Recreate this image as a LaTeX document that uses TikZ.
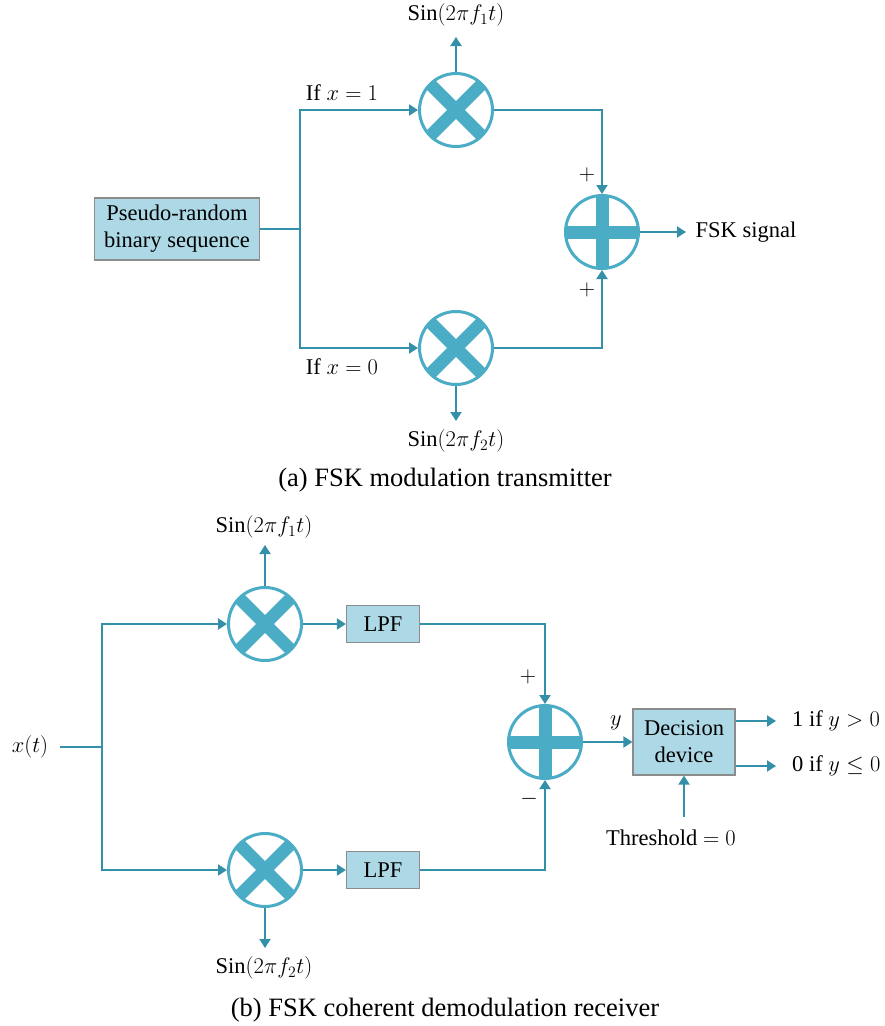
\documentclass[tikz,border=0pt]{standalone}
\usepackage{fix-cm}
\usepackage{amsmath,amssymb}
\usepackage{fontspec}
\setmainfont{Liberation Serif}
\usepackage{tikz}
\usetikzlibrary{arrows.meta, positioning, calc}

\definecolor{linecol}{RGB}{52,143,168}
\definecolor{symcol}{RGB}{75,172,198}
\definecolor{boxfill}{RGB}{173,216,230}

\begin{document}
\begin{tikzpicture}[
    x=1pt, y=-1pt,
    box/.style={
        rectangle, draw=gray!90, line width=1.2pt, fill=boxfill,
        align=center, inner sep=0pt, font=\fontsize{22.5}{27}\selectfont
    },
    mulnode/.style={
        circle, draw=symcol, line width=3pt, fill=white,
        minimum size=73pt, inner sep=0pt,
        path picture={
            \draw[symcol, line width=12.5pt]
                ($(path picture bounding box.center)+(-40,-40)$) -- ($(path picture bounding box.center)+(40,40)$)
                ($(path picture bounding box.center)+(-40,40)$) -- ($(path picture bounding box.center)+(40,-40)$);
        }
    },
    sumnode/.style={
        mulnode,
        path picture={
            \draw[symcol, line width=13pt]
                ($(path picture bounding box.center)+(-40,0)$) -- ($(path picture bounding box.center)+(40,0)$)
                ($(path picture bounding box.center)+(0,-40)$) -- ($(path picture bounding box.center)+(0,40)$);
        }
    },
    lbl/.style={inner sep=0pt, font=\fontsize{22.5}{27}\selectfont},
    caption/.style={inner sep=0pt, font=\fontsize{26.5}{30}\selectfont},
    line/.style={line width=2pt, linecol},
    arrow/.style={-{Triangle[length=9pt, width=11pt]}, line width=2pt, linecol}
]
\useasboundingbox (0,0) rectangle (885,1026);

% (a) transmitter
\node[box, minimum width=165pt, minimum height=62pt] (prbs) at (177,229) {Pseudo-random\\binary sequence};
\coordinate (splitA) at (300,229);
\node[mulnode] (mulA) at (456,110) {};
\node[mulnode] (mulB) at (456,348) {};
\node[sumnode] (sumA) at (602,232) {};

\coordinate (sinAtip) at (456,37);
\coordinate (sinBtip) at (456,421);
\coordinate (fskTip) at (686,232);
\node[lbl] (sinA) at (456,15) {$\mathrm{Sin}(2\pi f_1 t)$};
\node[lbl] (sinB) at (456,441) {$\mathrm{Sin}(2\pi f_2 t)$};
\node[lbl] (fsk) at (746,232) {FSK signal};
\node[lbl] (ifA) at (342,93) {If $x=1$};
\node[lbl] (ifB) at (342,367) {If $x=0$};
\node[lbl] (plusA) at (587,175) {$+$};
\node[lbl] (plusB) at (587,290) {$+$};

\draw[line] (prbs.east) -- (splitA);
\draw[arrow] (splitA) |- (mulA.west);
\draw[arrow] (splitA) |- (mulB.west);
\draw[arrow] (mulA.north) -- (sinAtip);
\draw[arrow] (mulB.south) -- (sinBtip);
\draw[arrow] (mulA.east) -| (sumA.north);
\draw[arrow] (mulB.east) -| (sumA.south);
\draw[arrow] (sumA.east) -- (fskTip);

\node[caption] (capA) at (445,480) {(a) FSK modulation transmitter};

% (b) receiver
\node[lbl] (xt) at (30,747) {$x(t)$};
\coordinate (xtFrom) at (60,747);
\coordinate (splitB) at (102,747);
\node[mulnode] (mulC) at (265,624) {};
\node[mulnode] (mulD) at (265,870) {};
\node[box, minimum width=73pt, minimum height=37pt] (lpfC) at (383,624) {LPF};
\node[box, minimum width=73pt, minimum height=37pt] (lpfD) at (383,870) {LPF};
\node[sumnode] (sumB) at (545,742) {};
\node[box, minimum width=102pt, minimum height=66pt] (dec) at (684,742) {Decision\\device};

\coordinate (sinCtip) at (265,545);
\coordinate (sinDtip) at (265,948);
\node[lbl] (sinC) at (264,527) {$\mathrm{Sin}(2\pi f_1 t)$};
\node[lbl] (sinD) at (264,968) {$\mathrm{Sin}(2\pi f_2 t)$};
\node[lbl] (plusC) at (528,677) {$+$};
\node[lbl] (minusD) at (529,799) {$-$};
\node[lbl] (ylab) at (616,723) {$y$};

\coordinate (oneTip) at (776,721);
\coordinate (zeroTip) at (776,766);
\coordinate (thrFrom) at (684,817);
\node[lbl, anchor=west] (one) at (792,721) {1 if $y>0$};
\node[lbl, anchor=west] (zero) at (792,766) {0 if $y\leq 0$};
\node[lbl] (thr) at (671,838) {Threshold $=0$};

\draw[line] (xtFrom) -- (splitB);
\draw[arrow] (splitB) |- (mulC.west);
\draw[arrow] (splitB) |- (mulD.west);
\draw[arrow] (mulC.north) -- (sinCtip);
\draw[arrow] (mulD.south) -- (sinDtip);
\draw[arrow] (mulC.east) -- (lpfC.west);
\draw[arrow] (mulD.east) -- (lpfD.west);
\draw[arrow] (lpfC.east) -| (sumB.north);
\draw[arrow] (lpfD.east) -| (sumB.south);
\draw[arrow] (sumB.east) -- (dec.west);
\draw[arrow] (dec.east |- oneTip) -- (oneTip);
\draw[arrow] (dec.east |- zeroTip) -- (zeroTip);
\draw[arrow] (thrFrom) -- (dec.south);

\node[caption] (capB) at (445,1010) {(b) FSK coherent demodulation receiver};

\end{tikzpicture}
\end{document}
